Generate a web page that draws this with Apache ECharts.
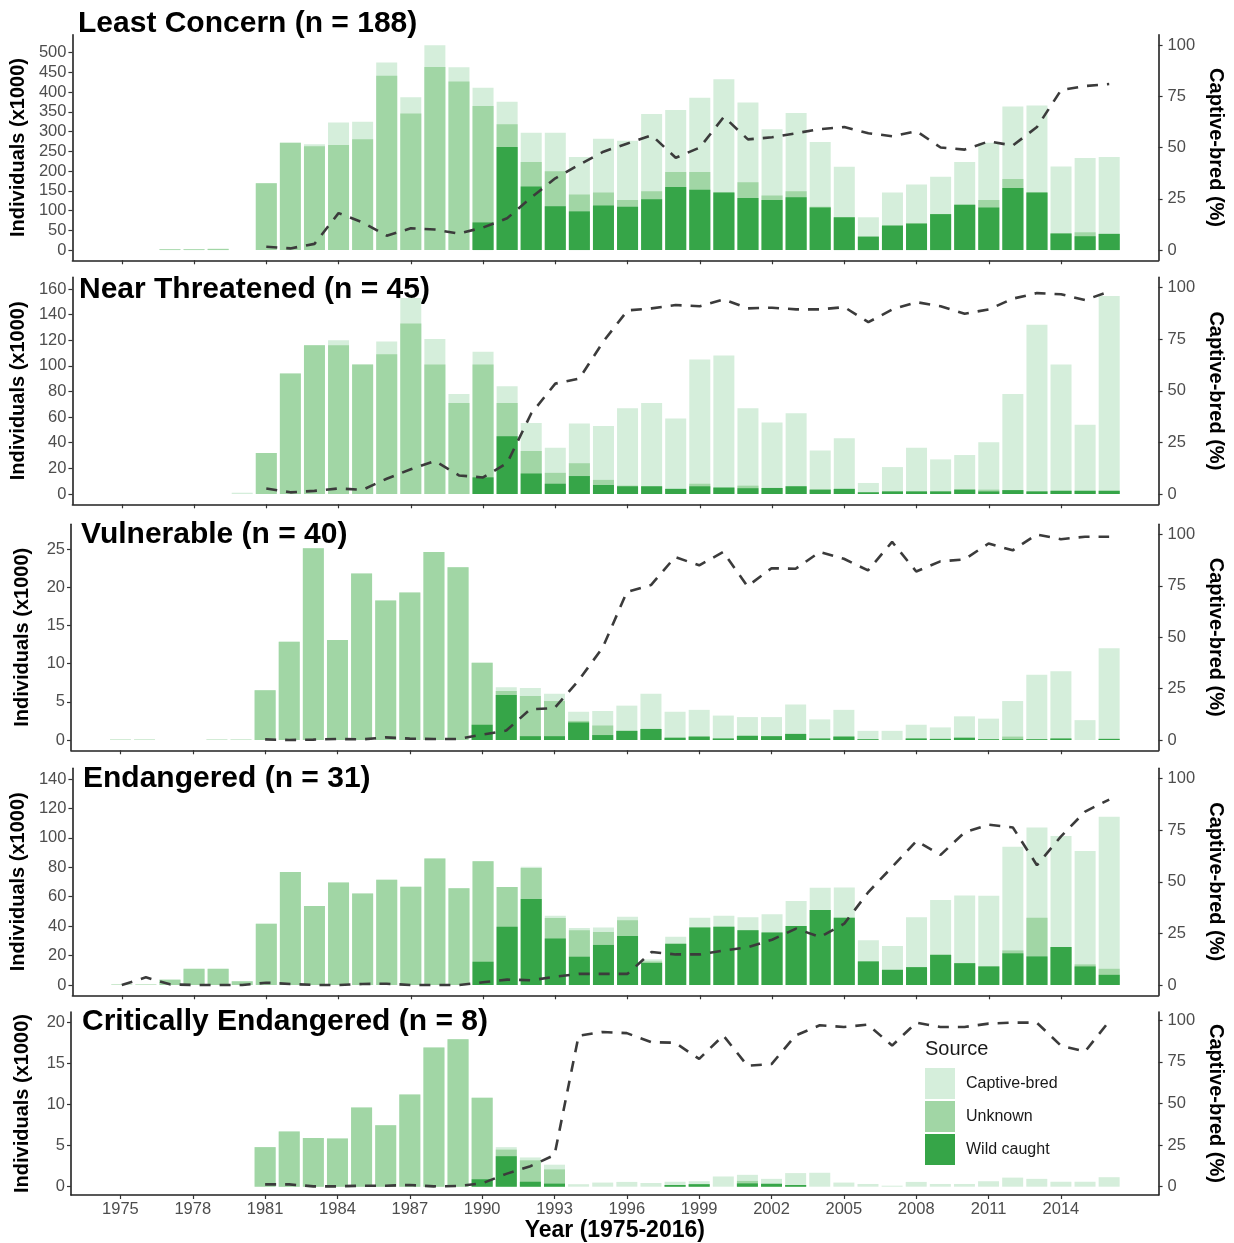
<!DOCTYPE html>
<html><head><meta charset="utf-8">
<script src="https://cdn.jsdelivr.net/npm/echarts@6/dist/echarts.min.js"></script>
<style>html,body{margin:0;padding:0;background:#fff}#c{width:1234px;height:1243px}</style>
</head><body><div id="c"></div>
<script>
// ---------------- DATA ----------------
const years = [1975,1976,1977,1978,1979,1980,1981,1982,1983,1984,1985,1986,1987,1988,1989,
  1990,1991,1992,1993,1994,1995,1996,1997,1998,1999,2000,2001,2002,2003,2004,2005,2006,2007,2008,2009,
  2010,2011,2012,2013,2014,2015,2016];
const tickYears = [1975,1978,1981,1984,1987,1990,1993,1996,1999,2002,2005,2008,2011,2014];
const pctTicks = [0,25,50,75,100];

// Least Concern (x1000 individuals)
const lcWild = [0,0,0,0,0,0,0,0,0,0,0,0,0,0,0,
  70,261,161,111,98,113,110,129,160,153,146,132,127,134,108,83,34,62,67,91,115,108,157,146,42,35,41];
const lcUnknown = [0,0,2,2,3,0,169,272,263,266,281,442,346,464,427,
  295,58,62,89,43,33,17,20,38,45,0,40,11,15,2,0,0,0,1,0,0,19,23,0,0,10,0];
const lcCaptive = [0,0,0,0,0,0,0,0,5,57,44,33,41,55,36,
  46,57,74,97,95,136,150,196,157,188,287,202,168,198,164,128,49,84,98,95,108,145,184,220,170,188,195];
const lcPct = [null,null,null,null,null,null,1.6,0.8,3,18,13.5,7,10.6,10,8,
  11,15.5,25.6,35,41.7,48,52,56,45,50,65,54,55,57,59,60,57,55.5,58,50,49,53,51,60,78,80,81];
const lcTicks = [0,50,100,150,200,250,300,350,400,450,500];

// Near Threatened
const ntWild = [0,0,0,0,0,0,0,0,0,0,0,0,0,0,0,
  13,45,16,8,14,7,6,6,4,6,5,4.5,4.7,6,3.4,4,1.3,2,2,2,3.4,2,3,2,2.5,2.5,2.5];
const ntUnknown = [0,0,0,0,0,0,32,94,116,116,101,109,133,101,71,
  88,26,17.5,8.5,10,4,0.5,0,0,2,0,2,0,0,0,0,0,0,0,0,0,1.4,0,0,0,0,0];
const ntCaptive = [0,0,0,0,0,1,0,0,0,4,0,10,20,20,7,
  10,13,22,19.5,31,42,60.5,65,55,97,103,60.5,51,57,30.6,39.5,7.3,19,34,25,27,37,75,130,98.5,51.5,152];
const ntPct = [null,null,null,null,null,null,2.7,0.8,1.5,2.7,2,7.4,12,16,9,
  8,15,39,53.5,56,74,89,90,91.6,91,94.3,90,90.3,89.5,89.5,90.6,83.3,89.5,93,91,87.4,89.5,94.7,97.4,96.8,94,98.2];
const ntTicks = [0,20,40,60,80,100,120,140,160];

// Vulnerable
const vuWild = [0,0,0,0,0,0,0,0,0,0,0,0,0,0,0,
  2,5.9,0.5,0.5,2.3,0.65,1.2,1.45,0.3,0.45,0.2,0.55,0.5,0.8,0.2,0.45,0.1,0,0.2,0.15,0.3,0.1,0.1,0.1,0.2,0,0.15];
const vuUnknown = [0.05,0.05,0,0,0.05,0.05,6.5,12.85,25.1,13.1,21.8,18.25,19.3,24.6,22.6,
  8.1,0.5,5.25,4.6,0.2,1.25,0,0,0,0,0,0,0,0,0,0,0,0,0,0,0,0,0.35,0,0,0,0];
const vuCaptive = [0,0,0,0,0,0,0,0,0,0,0,0,0,0,0,
  0,0.5,1.05,0.95,1.2,1.9,3.3,4.6,3.4,3.5,3.0,2.45,2.5,3.85,2.5,3.5,1.1,1.2,1.8,1.5,2.8,2.7,4.65,8.45,8.8,2.6,11.85];
const vuPct = [null,null,null,null,null,null,0.3,0,0.2,0.5,0.3,1.3,0.7,0.5,0.5,
  2.6,4.6,15,15.5,29,45,72,75.4,89,85,91.5,74.8,83.6,83.3,91.5,88.2,82.5,96.4,82,86.9,87.9,95.6,92.3,100,97.7,98.9,98.9];
const vuTicks = [0,5,10,15,20,25];

// Endangered
const enWild = [0,0,0,0,0,0,0,0,0,0,0,0,0,0,0,
  15.8,39.5,58.5,31.5,19.2,27.2,33.3,15,28,39,39.5,37.2,35.6,40,51,45.7,16,10.3,12.1,20.5,14.8,12.6,21.5,19.4,25.8,12.6,6.9];
const enUnknown = [0.3,0.3,3.6,11,11,2.5,41.6,76.7,53.7,69.7,62.1,71.5,66.7,85.9,65.8,
  68.2,27,21,14,18,8.8,10.7,1,0,0,0,0,0,0,0,0,0,0,0,0,0,0,2,26.3,0,1.4,4.1];
const enCaptive = [0,0,0,0,0,0,0,0,0,0,0,0,0,0,0,
  0,0,0.9,1.5,1.5,3,2.4,1.4,4.7,6.7,7.5,8.8,12.4,17,15,20.5,14.4,16.2,33.9,37.3,46,48,70.5,61.4,75.4,77,103.4];
const enPct = [0,3.7,0.3,0,0,0,1.1,0.5,0,0,0.5,0.6,0,0,0,
  1.3,2.6,2.3,4,5.4,5.4,5.4,16,14.8,14.8,16.7,18.3,21.9,27.3,23.2,29.7,45,57.3,69.8,63,74,77.6,76.3,58,72,84,89.8];
const enTicks = [0,20,40,60,80,100,120,140];

// Critically Endangered
const ceWild = [0,0,0,0,0,0,0,0,0,0,0,0,0,0,0,
  0.9,3.7,0.6,0.37,0,0,0,0,0.2,0.3,0,0.4,0.35,0.2,0,0,0,0,0,0,0,0,0,0,0,0,0];
const ceUnknown = [0,0,0,0,0,0,4.8,6.7,5.9,5.85,9.6,7.45,11.2,16.9,17.9,
  9.9,0.8,2.6,1.73,0,0,0,0,0,0,0,0.3,0,0,0,0,0,0,0,0,0,0,0,0,0,0,0];
const ceCaptive = [0,0,0,0,0,0,0,0,0,0,0,0,0,0,0,
  0,0.3,0.35,0.57,0.3,0.5,0.58,0.45,0.4,0.36,1.24,0.74,0.6,1.45,1.69,0.5,0.33,0.12,0.58,0.33,0.33,0.66,1.1,0.95,0.6,0.6,1.15];
const cePct = [null,null,null,null,null,null,1.4,1.4,0.2,0.2,0.6,0.6,1,0.2,0.4,
  2,7.7,12.3,19,90.7,93,92.3,86.9,86.5,76.8,90.9,72.7,73.7,90.9,97,96,97.4,84.8,98.6,96,96,98,98.6,98.6,84.8,81.2,99.4];
const ceTicks = [0,5,10,15,20];

const panelTitles = ['Least Concern (n = 188)','Near Threatened (n = 45)','Vulnerable (n = 40)','Endangered (n = 31)','Critically Endangered (n = 8)'];
// value on the left axis that corresponds to 100 % on the right axis
const secMax = [519.5, 161, 26.9, 140.3, 20.2];

// ---------------- LAYOUT / STYLE ----------------
const gridTops = [34.8, 277.4, 524.2, 768.2, 1012];
const gridHeights = [225.5, 226.9, 226.1, 227.1, 183.3];
const titleX = [78, 79, 81, 83, 82];
const titleY = [23.5, 289.5, 534.5, 779, 1022];
const X_MIN = 1972.95, X_MAX = 2018.05;
const FONT = '"Liberation Sans", Arial, Helvetica, sans-serif';
const C_CAP = '#d5eedb', C_UNK = '#a1d6a5', C_WILD = '#36a548';
const AX_COL = '#222222', TXT_COL = '#4d4d4d';

const panels = [
  {wild: lcWild, unk: lcUnknown, cap: lcCaptive, pct: lcPct, ticks: lcTicks},
  {wild: ntWild, unk: ntUnknown, cap: ntCaptive, pct: ntPct, ticks: ntTicks},
  {wild: vuWild, unk: vuUnknown, cap: vuCaptive, pct: vuPct, ticks: vuTicks},
  {wild: enWild, unk: enUnknown, cap: enCaptive, pct: enPct, ticks: enTicks},
  {wild: ceWild, unk: ceUnknown, cap: ceCaptive, pct: cePct, ticks: ceTicks}
];

const grids = [], xAxes = [], yAxes = [], series = [], graphics = [];
const lbl = {fontSize: 16.5, color: TXT_COL, fontFamily: FONT};
const axLine = {show: true, onZero: false, lineStyle: {color: AX_COL, width: 1.6}};
const axTick = {show: true, length: 4, lineStyle: {color: '#333', width: 1.2}};
const nameStyle = {fontSize: 20, fontWeight: 'bold', color: '#000', fontFamily: FONT};

panels.forEach((p, i) => {
  const M = secMax[i];
  grids.push({left: 71, right: 68, top: gridTops[i], height: gridHeights[i]});
  xAxes.push({
    gridIndex: i, type: 'value', min: X_MIN, max: X_MAX,
    axisLine: axLine, axisTick: Object.assign({customValues: tickYears}, axTick),
    axisLabel: Object.assign({show: i === 4, customValues: tickYears, margin: 6, formatter: v => String(v)}, lbl),
    splitLine: {show: false},
    name: i === 4 ? 'Year (1975-2016)' : '', nameLocation: 'middle', nameGap: 24,
    nameTextStyle: Object.assign({}, nameStyle, {fontSize: 23})
  });
  yAxes.push({
    gridIndex: i, type: 'value', position: 'left', min: -0.05 * M, max: 1.05 * M,
    axisLine: axLine, axisTick: Object.assign({customValues: p.ticks}, axTick),
    axisLabel: Object.assign({customValues: p.ticks, margin: 6, formatter: v => String(v)}, lbl),
    splitLine: {show: false},
    name: 'Individuals (x1000)', nameLocation: 'middle', nameGap: 39, nameTextStyle: nameStyle
  });
  yAxes.push({
    gridIndex: i, type: 'value', position: 'right', min: -5, max: 105,
    axisLine: axLine, axisTick: Object.assign({customValues: pctTicks}, axTick),
    axisLabel: Object.assign({customValues: pctTicks, margin: 9, formatter: v => String(v)}, lbl),
    splitLine: {show: false},
    name: 'Captive-bred (%)', nameLocation: 'middle', nameRotate: -90, nameGap: 37, nameTextStyle: nameStyle
  });
  // overlapping bars = stacked look (top of each segment = cumulative sum)
  const lvl1 = p.wild;
  const lvl2 = p.wild.map((w, k) => w + p.unk[k]);
  const lvl3 = lvl2.map((v, k) => v + p.cap[k]);
  const mk = arr => years.map((y, k) => [y, arr[k]]).filter(d => d[1] > 0);
  const barBase = {type: 'bar', xAxisIndex: i, yAxisIndex: 2 * i, barWidth: 21, barGap: '-100%',
    silent: true, emphasis: {disabled: true}};
  series.push(Object.assign({name: 'Captive-bred', data: mk(lvl3), itemStyle: {color: C_CAP}, z: 2}, barBase));
  series.push(Object.assign({name: 'Unknown', data: mk(lvl2), itemStyle: {color: C_UNK}, z: 3}, barBase));
  series.push(Object.assign({name: 'Wild caught', data: mk(lvl1), itemStyle: {color: C_WILD}, z: 4}, barBase));
  series.push({
    type: 'line', name: 'Captive-bred %', xAxisIndex: i, yAxisIndex: 2 * i + 1, z: 6,
    data: years.map((y, k) => [y, p.pct[k]]).filter(d => d[1] !== null),
    showSymbol: false, symbol: 'none', silent: true,
    lineStyle: {color: '#3b3b3b', width: 2.6, type: [11, 9]}
  });
  graphics.push({type: 'text', x: titleX[i], y: titleY[i],
    style: {text: panelTitles[i], fontSize: 30, fontWeight: 'bold', fontFamily: FONT, fill: '#000',
      align: 'left', verticalAlign: 'middle'}});
});

graphics.push({type: 'text', x: 925, y: 1049,
  style: {text: 'Source', fontSize: 20, fontFamily: FONT, fill: '#1a1a1a', align: 'left', verticalAlign: 'middle'}});

const chart = echarts.init(document.getElementById('c'), null, {renderer: 'canvas'});
chart.setOption({
  animation: false,
  backgroundColor: '#fff',
  grid: grids, xAxis: xAxes, yAxis: yAxes, series: series, graphic: graphics,
  legend: {
    data: ['Captive-bred', 'Unknown', 'Wild caught'],
    orient: 'vertical', left: 925, top: 1068, itemWidth: 30, itemHeight: 31, itemGap: 2,
    icon: 'rect', selectedMode: false, padding: 0,
    textStyle: {fontSize: 16, color: '#1a1a1a', fontFamily: FONT, padding: [0, 0, 0, 6]}
  }
});
</script></body></html>
